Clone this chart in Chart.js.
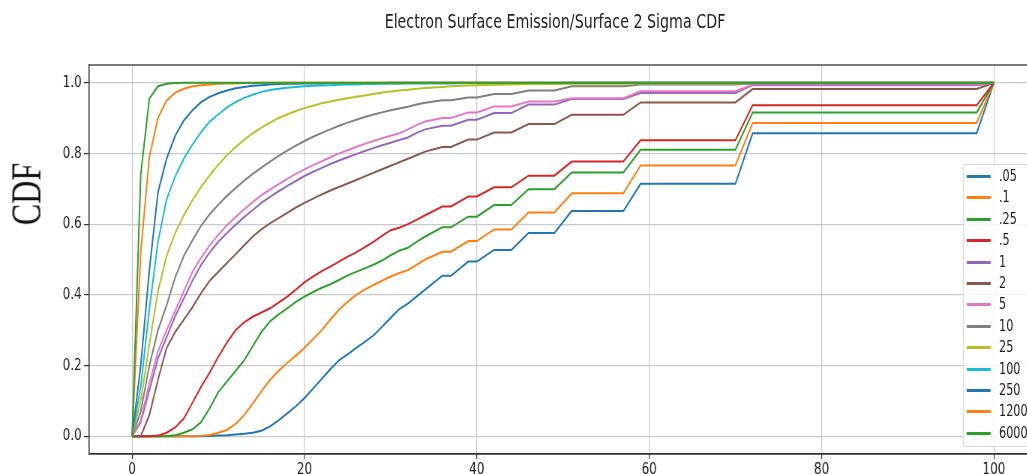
<!DOCTYPE html>
<html>
<head>
<meta charset="utf-8">
<script src="https://cdn.jsdelivr.net/npm/chart.js@4.4.1/dist/chart.umd.min.js"></script>
<style>
  html, body { margin: 0; padding: 0; background: #fff; overflow: hidden; }
  body { width: 1027px; height: 474px; position: relative; }
  #wrap { position: absolute; left: 0; top: 0; width: 1480px; height: 474px;
          transform: scaleX(0.75); transform-origin: 0 0; }
  #title { position: absolute; left: 0; top: 10px; width: 1480px; text-align: center;
           font: 19px "DejaVu Sans", sans-serif; color: #222; }
  #legend { position: absolute; left: 1284px; top: 164px; width: 96px; height: 281px;
            background: rgba(255,255,255,0.8); border: 1px solid #d4d4d4; border-radius: 3px;
            font: 15px "DejaVu Sans", sans-serif; color: #222; }
  .ln { position: absolute; left: 4px; width: 32px; height: 3px; }
  .tx { position: absolute; left: 47px; line-height: 20px; }
  #ylab { position: absolute; left: 26px; top: 194px; white-space: nowrap; line-height: 1;
          font: 32px "Liberation Serif", "DejaVu Serif", serif; color: #111;
          transform: translate(-50%, -50%) rotate(-90deg) scaleY(1.33); }
</style>
</head>
<body>
<div id="wrap">
  <canvas id="cdf"></canvas>
  <div id="title">Electron Surface Emission/Surface 2 Sigma CDF</div>
  <div id="legend"></div>
</div>
<div id="ylab">CDF</div>
<script>
var xs = [0,1,2,3,4,5,6,7,8,9,10,11,12,13,14,15,16,17,18,19,20,21,22,23,24,25,26,27,28,29,30,31,32,33,34,36,37,39,40,42,44,46,49,51,57,59,70,72,98,100];

var s005 = [0,0,0,0,0,0,0,0,0,0.001, 0.002,0.003,0.005,0.007,0.01,0.016,0.028,0.045,0.065,0.085, 0.108,0.135,0.162,0.19,0.215,0.232,0.25,0.267,0.285,0.31, 0.335,0.36,0.375,0.395,0.415, 0.454,0.454,0.494,0.494,0.527,0.527,0.575,0.575,0.637,0.637,0.714,0.714,0.857,0.857,1];
var s01 = [0,0,0,0,0,0,0,0,0.001,0.004, 0.01,0.018,0.035,0.06,0.093,0.127,0.16,0.185,0.208,0.228, 0.25,0.275,0.3,0.33,0.358,0.38,0.4,0.415,0.428,0.44, 0.452,0.462,0.47,0.485,0.5, 0.522,0.522,0.552,0.552,0.585,0.585,0.633,0.633,0.687,0.687,0.766,0.766,0.886,0.886,1];
var s025 = [0,0,0,0,0.001,0.003,0.01,0.02,0.04,0.08, 0.125,0.155,0.185,0.215,0.255,0.295,0.325,0.345,0.362,0.38, 0.395,0.408,0.42,0.43,0.442,0.455,0.465,0.475,0.485,0.497, 0.512,0.525,0.533,0.55,0.565, 0.591,0.591,0.621,0.621,0.654,0.654,0.699,0.699,0.746,0.746,0.81,0.81,0.916,0.916,1];
var s05 = [0,0,0,0.002,0.01,0.025,0.05,0.095,0.14,0.18, 0.225,0.265,0.3,0.322,0.338,0.35,0.362,0.378,0.395,0.415, 0.435,0.452,0.467,0.48,0.494,0.508,0.52,0.535,0.55,0.567, 0.583,0.59,0.6,0.612,0.625, 0.65,0.65,0.678,0.678,0.704,0.704,0.737,0.737,0.777,0.777,0.837,0.837,0.936,0.936,1];
var s1 = [0,0.04,0.13,0.22,0.28,0.34,0.39,0.44,0.485,0.52, 0.55,0.575,0.598,0.62,0.64,0.66,0.677,0.693,0.708,0.722, 0.736,0.748,0.759,0.77,0.78,0.789,0.798,0.807,0.815,0.823, 0.83,0.838,0.845,0.858,0.868, 0.878,0.878,0.895,0.895,0.914,0.914,0.938,0.938,0.954,0.954,0.971,0.971,0.993,0.993,1];
var s2 = [0,0,0.06,0.16,0.25,0.295,0.33,0.365,0.405,0.44, 0.465,0.49,0.515,0.54,0.565,0.585,0.602,0.617,0.632,0.647, 0.66,0.672,0.684,0.695,0.705,0.715,0.725,0.735,0.745,0.755, 0.765,0.775,0.785,0.795,0.805, 0.818,0.818,0.839,0.839,0.859,0.859,0.883,0.883,0.909,0.909,0.944,0.944,0.982,0.982,1];
var s5 = [0,0.045,0.15,0.24,0.3,0.355,0.41,0.465,0.505,0.54, 0.57,0.597,0.62,0.642,0.662,0.682,0.698,0.713,0.728,0.742, 0.755,0.767,0.778,0.789,0.8,0.809,0.818,0.827,0.835,0.843, 0.85,0.857,0.868,0.88,0.89, 0.9,0.9,0.916,0.916,0.933,0.933,0.947,0.947,0.956,0.956,0.976,0.976,0.994,0.994,1];
var s10 = [0,0.07,0.2,0.3,0.37,0.45,0.51,0.555,0.595,0.628, 0.655,0.68,0.702,0.723,0.742,0.76,0.777,0.793,0.808,0.822, 0.835,0.847,0.858,0.868,0.878,0.887,0.895,0.903,0.91,0.916, 0.922,0.927,0.932,0.938,0.943, 0.95,0.95,0.958,0.958,0.968,0.968,0.978,0.978,0.99,0.99,0.995,0.995,0.998,0.998,1];
var s25 = [0,0.1,0.26,0.41,0.51,0.575,0.625,0.668,0.705,0.738, 0.768,0.795,0.818,0.838,0.857,0.873,0.887,0.9,0.91,0.92, 0.928,0.935,0.942,0.947,0.952,0.956,0.96,0.964,0.968,0.972, 0.975,0.978,0.98,0.983,0.985, 0.988,0.99,0.992,0.993,0.994,0.995,0.996,0.996,0.997,0.997,0.998,0.998,0.999,0.999,1];
var s100 = [0,0.14,0.36,0.55,0.67,0.735,0.785,0.825,0.86,0.89, 0.91,0.93,0.945,0.957,0.966,0.974,0.979,0.983,0.986,0.988, 0.99,0.991,0.992,0.993,0.994,0.995,0.995,0.996,0.996,0.997, 0.997,0.997,0.998,0.998,0.998, 0.998,0.998,0.999,0.999,0.999,0.999,0.999,0.999,1,1,1,1,1,1,1];
var s250 = [0,0.2,0.47,0.69,0.785,0.85,0.893,0.922,0.945,0.96, 0.97,0.978,0.984,0.988,0.991,0.993,0.995,0.996,0.997,0.997, 0.998,0.998,0.998,0.999,0.999,0.999,0.999,0.999,0.999,0.999, 1,1,1,1,1, 1,1,1,1,1,1,1,1,1,1,1,1,1,1,1];
var s1200 = [0,0.52,0.79,0.9,0.95,0.972,0.983,0.99,0.993,0.995, 0.997,0.998,0.998,0.999,0.999,1,1,1,1,1, 1,1,1,1,1,1,1,1,1,1, 1,1,1,1,1, 1,1,1,1,1,1,1,1,1,1,1,1,1,1,1];
var s6000 = [0,0.74,0.955,0.99,0.997,0.999,1,1,1,1, 1,1,1,1,1,1,1,1,1,1, 1,1,1,1,1,1,1,1,1,1, 1,1,1,1,1, 1,1,1,1,1,1,1,1,1,1,1,1,1,1,1];

var labels = ['.05', '.1', '.25', '.5', '1', '2', '5', '10', '25', '100', '250', '1200', '6000'];
var series = [s005, s01, s025, s05, s1, s2, s5, s10, s25, s100, s250, s1200, s6000];
var colors = ['#1f77b4', '#ff7f0e', '#2ca02c', '#d62728', '#9467bd', '#8c564b', '#e377c2',
              '#7f7f7f', '#bcbd22', '#17becf', '#1f77b4', '#ff7f0e', '#2ca02c'];

var xTicks = [0, 20, 40, 60, 80, 100];
var yTicks = [0, 0.2, 0.4, 0.6, 0.8, 1.0];

Chart.defaults.font.family = '"DejaVu Sans", sans-serif';
Chart.defaults.color = '#222';

var datasets = series.map(function (s, i) {
    return {
        label: labels[i],
        data: s.map(function (v, j) { return { x: xs[j], y: v }; }),
        borderColor: colors[i],
        backgroundColor: colors[i],
        borderWidth: 2,
        pointRadius: 0,
        tension: 0,
        fill: false,
        order: series.length - i
    };
});

// matplotlib style box round the plot
var frame = {
    id: 'frame',
    afterDraw: function (chart) {
        var a = chart.chartArea, c = chart.ctx;
        c.save();
        c.strokeStyle = '#333';
        c.lineWidth = 1.3;
        c.strokeRect(a.left, a.top, a.right - a.left, a.bottom - a.top);
        c.restore();
    }
};

new Chart(document.getElementById('cdf'), {
    type: 'line',
    data: { datasets: datasets },
    plugins: [frame],
    options: {
        responsive: true,
        maintainAspectRatio: false,
        animation: false,
        layout: { padding: { top: 65, right: 97.3, left: 0, bottom: 0 } },
        plugins: { legend: { display: false }, tooltip: { enabled: false } },
        scales: {
            x: {
                type: 'linear', min: -5, max: 105,
                afterBuildTicks: function (s) { s.ticks = xTicks.map(function (v) { return { value: v }; }); },
                afterFit: function (s) { s.height = 20; },
                grid: { color: '#cacaca', lineWidth: 1.2, tickLength: 5, tickColor: '#333' },
                border: { color: '#333', width: 1.3 },
                ticks: { font: { size: 16 }, padding: 1, maxRotation: 0 }
            },
            y: {
                type: 'linear', min: -0.05, max: 1.05,
                afterBuildTicks: function (s) { s.ticks = yTicks.map(function (v) { return { value: v }; }); },
                afterFit: function (s) { s.width = 118.7; },
                grid: { color: '#cacaca', lineWidth: 1.2, tickLength: 6.7, tickColor: '#333' },
                border: { color: '#333', width: 1.3 },
                ticks: { font: { size: 16 }, padding: 3, callback: function (v) { return v.toFixed(1); } }
            }
        }
    }
});

// legend rows, placed on whole pixels
var lg = document.getElementById('legend');
labels.forEach(function (l, i) {
    var cy = Math.round(11 + i * 21.39);
    var ln = document.createElement('span');
    ln.className = 'ln';
    ln.style.background = colors[i];
    ln.style.top = (cy - 1) + 'px';
    var tx = document.createElement('span');
    tx.className = 'tx';
    tx.style.top = (cy - 10) + 'px';
    tx.textContent = l;
    lg.appendChild(ln);
    lg.appendChild(tx);
});
</script>
</body>
</html>
